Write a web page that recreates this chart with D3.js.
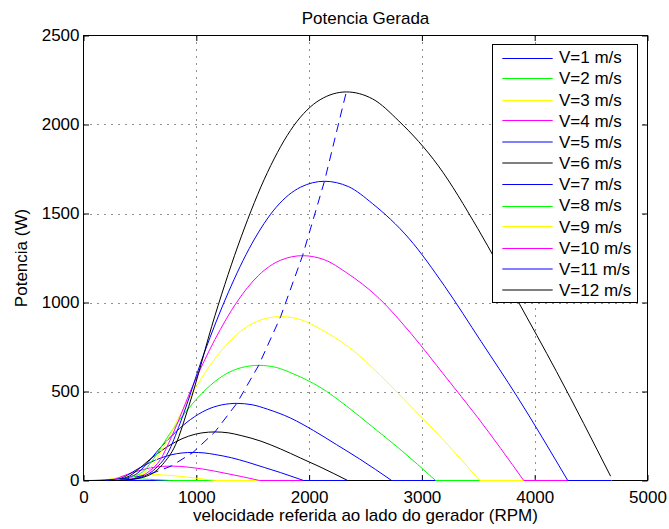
<!DOCTYPE html>
<html>
<head>
<meta charset="utf-8">
<script src="https://cdn.jsdelivr.net/npm/d3@7"></script>
<style>
  html, body { margin: 0; padding: 0; background: #fff; }
  svg { display: block; }
  text { font-family: "Liberation Sans", Arial, Helvetica, sans-serif; fill: #000; }
</style>
</head>
<body>
<svg id="chart" width="669" height="529"></svg>
<script>
// ---------------- DATA ----------------
const titleText = "Potencia Gerada";
const xLabelText = "velocidade referida ao lado do gerador (RPM)";
const yLabelText = "Potencia (W)";

const xTicks = [0, 1000, 2000, 3000, 4000, 5000];
const yTicks = [0, 500, 1000, 1500, 2000, 2500];

const windSpeeds = [1, 2, 3, 4, 5, 6, 7, 8, 9, 10, 11, 12];
const seriesLabels = ["V=1 m/s","V=2 m/s","V=3 m/s","V=4 m/s","V=5 m/s","V=6 m/s",
                      "V=7 m/s","V=8 m/s","V=9 m/s","V=10 m/s","V=11 m/s","V=12 m/s"];

// [rpm, W] points per wind speed
const curveV1 = [[0,0],[78,0.2],[117,0.8],[155,1.2],[194,1.3],[233,1.2],[291,0.8],[350,0.4],[390,0],[4680,0]];
const curveV2 = [[0,0],[50,0],[85,0.1],[117,0.4],[136,0.9],[155,1.9],[194,4.3],[233,6.3],[272,8.0],[311,9.2],[350,9.9],[388,10.1],[427,9.9],[466,9.3],[524,8.2],[583,6.5],[641,4.7],[699,2.8],[781,0],[4680,0]];
const curveV3 = [[0,0],[76,0],[128,0.2],[175,1.4],[204,3.1],[233,6.5],[291,14.5],[350,21.4],[408,27.0],[466,31.1],[524,33.4],[583,34.1],[641,33.5],[699,31.5],[786,27.6],[874,22.1],[961,15.9],[1049,9.5],[1171,0],[4680,0]];
const curveV4 = [[0,0],[101,0],[171,0.6],[233,3.3],[272,7.4],[311,15.4],[388,34.3],[466,50.7],[544,64.2],[621,73.9],[699,79.3],[777,80.9],[854,79.4],[932,74.8],[1048,65.5],[1165,52.4],[1282,37.6],[1398,22.7],[1561,0],[4680,0]];
const curveV5 = [[0,0],[126,0],[214,1.1],[292,6.5],[340,14.5],[389,30.0],[486,67.0],[583,99.0],[680,125.2],[777,144.2],[874,154.7],[971,157.9],[1068,155.1],[1165,146.1],[1311,127.9],[1457,102.3],[1602,73.4],[1748,44.2],[1952,0],[4680,0]];
const curveV6 = [[0,0],[151,0],[256,1.9],[350,11.2],[408,25.1],[466,51.9],[583,115.7],[699,171.1],[815,216.4],[932,249.2],[1049,267.4],[1165,272.9],[1282,268.0],[1398,252.4],[1573,221.0],[1748,176.8],[1922,126.9],[2097,76.4],[2342,0],[4680,0]];
const curveV7 = [[0,0],[176,0],[299,3.0],[408,17.8],[476,39.9],[544,82.3],[680,183.7],[816,271.7],[951,343.6],[1087,395.6],[1224,424.6],[1359,433.3],[1495,425.5],[1631,400.8],[1835,351.0],[2039,280.8],[2243,201.5],[2447,121.3],[2732,0],[4680,0]];
const curveV8 = [[0,0],[202,0],[342,4.5],[466,26.5],[544,59.5],[622,122.9],[777,274.2],[932,405.5],[1087,512.9],[1242,590.5],[1398,633.9],[1554,646.8],[1709,635.2],[1864,598.3],[2097,523.9],[2330,419.1],[2563,300.8],[2796,181.1],[3122,0],[4680,0]];
const curveV9 = [[0,0],[227,0],[384,6.4],[525,37.8],[612,84.7],[699,175.0],[874,390.5],[1049,577.5],[1223,730.4],[1398,840.9],[1573,902.6],[1748,921],[1922,904.4],[2097,851.9],[2359,746.0],[2622,596.8],[2884,428.3],[3146,257.9],[3513,0],[4680,0]];
const curveV10 = [[0,0],[252,0],[427,8.8],[583,51.8],[680,116.2],[777,240.0],[971,535.5],[1165,791.9],[1359,1001.6],[1553,1153.1],[1748,1237.7],[1942,1263],[2136,1240.3],[2330,1168.3],[2621,1023.0],[2913,818.4],[3204,587.3],[3495,353.6],[3903,0],[4680,0]];
const curveV11 = [[0,0],[277,0],[470,11.8],[641,68.9],[748,154.7],[855,319.4],[1068,712.7],[1282,1054.0],[1495,1333.0],[1708,1534.8],[1923,1647.4],[2136,1681],[2350,1650.7],[2563,1554.9],[2883,1361.6],[3204,1089.3],[3524,781.7],[3845,470.7],[4293,0],[4680,0]];
const curveV12 = [[0,0],[302,0],[512,15.3],[700,89.5],[816,200.8],[932,414.8],[1165,925.6],[1398,1368.7],[1631,1731.1],[1864,1993.1],[2098,2139.3],[2330,2183],[2563,2143.7],[2796,2019.3],[3145,1768.2],[3496,1414.6],[3845,1015.1],[4194,611.2],[4673,24]];

// locus of maximum power (dashed line)
const peakRpm   = [194, 388, 583, 777, 971, 1165, 1359, 1553, 1748, 1942, 2136, 2330];
const peakPower = [1.3, 10.1, 34.1, 80.9, 157.9, 272.9, 433.3, 646.8, 921, 1263, 1681, 2183];

// ---------------- STYLE ----------------
const seriesColors = ["#0000ff","#00ff00","#ffff00","#ff00ff","#0000ff","#000000",
                      "#0000ff","#00ff00","#ffff00","#ff00ff","#0000ff","#000000"];
const curves = [curveV1,curveV2,curveV3,curveV4,curveV5,curveV6,curveV7,curveV8,curveV9,curveV10,curveV11,curveV12];

// ---------------- LAYOUT ----------------
const L = 83.5, R = 647.5, T = 35.5, B = 480.5;
const svg = d3.select("#chart");
svg.append("rect").attr("width", 669).attr("height", 529).attr("fill", "#fff");

const x = d3.scaleLinear().domain([0, 5000]).range([L, R]);
const y = d3.scaleLinear().domain([0, 2500]).range([B, T]);

// grid
const grid = svg.append("g").attr("stroke", "#222").attr("stroke-width", 1)
  .attr("stroke-dasharray", "1,6").attr("fill", "none");
xTicks.filter(t => t > 0 && t < 5000).forEach(t => {
  grid.append("line").attr("x1", Math.round(x(t)) + 0.5).attr("x2", Math.round(x(t)) + 0.5)
    .attr("y1", T).attr("y2", B);
});
yTicks.filter(t => t > 0 && t < 2500).forEach(t => {
  grid.append("line").attr("y1", Math.round(y(t)) + 0.5).attr("y2", Math.round(y(t)) + 0.5)
    .attr("x1", L).attr("x2", R);
});

// axes (ticks inward)
const tickLen = 5.5;
const fs = 17;
const axB = svg.append("g").attr("transform", `translate(0,${B})`)
  .call(d3.axisBottom(x).tickValues(xTicks).tickSize(-tickLen).tickPadding(10.5).tickFormat(d3.format("d")));
const axT = svg.append("g").attr("transform", `translate(0,${T})`)
  .call(d3.axisTop(x).tickValues(xTicks).tickSize(-tickLen).tickFormat(""));
const axL = svg.append("g").attr("transform", `translate(${L},0)`)
  .call(d3.axisLeft(y).tickValues(yTicks).tickSize(-tickLen).tickPadding(4).tickFormat(d3.format("d")));
const axR = svg.append("g").attr("transform", `translate(${R},0)`)
  .call(d3.axisRight(y).tickValues(yTicks).tickSize(-tickLen).tickFormat(""));
[axB, axT, axL, axR].forEach(a => {
  a.select(".domain").remove();
  a.selectAll("line").attr("stroke", "#000");
  a.selectAll("text").attr("font-size", fs).attr("font-family", '"Liberation Sans", Arial, sans-serif').attr("fill", "#000");
});

// axes box
svg.append("rect").attr("x", L).attr("y", T).attr("width", R - L).attr("height", B - T)
  .attr("fill", "none").attr("stroke", "#000").attr("stroke-width", 1);

// curves
const smooth = d3.line().x(d => x(d[0])).y(d => y(d[1])).curve(d3.curveMonotoneX);
const straight = d3.line().x(d => x(d[0])).y(d => y(d[1]));
const gCurves = svg.append("g").attr("fill", "none").attr("stroke-width", 1);
curves.forEach((data, i) => {
  const idx = data.findIndex((d, k) => k > 0 && d[1] === 0 && data[k - 1][1] > 0);
  const head = idx < 0 ? data : data.slice(0, idx + 1);
  gCurves.append("path").attr("d", smooth(head)).attr("stroke", seriesColors[i]);
  if (idx >= 0) gCurves.append("path").attr("d", straight(data.slice(idx))).attr("stroke", seriesColors[i]);
});

// dashed locus of max power
const peaks = peakRpm.map((r, i) => [r, peakPower[i]]);
svg.append("path").attr("d", straight(peaks)).attr("fill", "none")
  .attr("stroke", "#0000ff").attr("stroke-width", 1).attr("stroke-dasharray", "9,6");

// title and labels
svg.append("text").attr("x", (L + R) / 2).attr("y", 23.5).attr("text-anchor", "middle")
  .attr("font-size", fs).text(titleText);
svg.append("text").attr("x", (L + R) / 2).attr("y", 521).attr("text-anchor", "middle")
  .attr("font-size", fs).text(xLabelText);
svg.append("text").attr("transform", `translate(27,${(T + B) / 2}) rotate(-90)`)
  .attr("text-anchor", "middle").attr("font-size", fs).text(yLabelText);

// legend
const lg = svg.append("g");
lg.append("rect").attr("x", 492.5).attr("y", 44.5).attr("width", 145).attr("height", 258)
  .attr("fill", "#fff").attr("stroke", "#000").attr("stroke-width", 1);
seriesLabels.forEach((lab, i) => {
  const base = 57.25 + 21.1667 * i;
  const yy = (i % 6 >= 4) ? Math.round(base) : 2 * Math.round(base / 2) + 0.5;
  lg.append("line").attr("x1", 502.3).attr("x2", 552.7).attr("y1", yy).attr("y2", yy)
    .attr("stroke", seriesColors[i]).attr("stroke-width", 1);
  lg.append("text").attr("x", 559).attr("y", base + 6).attr("font-size", fs).text(lab);
});
</script>
</body>
</html>
